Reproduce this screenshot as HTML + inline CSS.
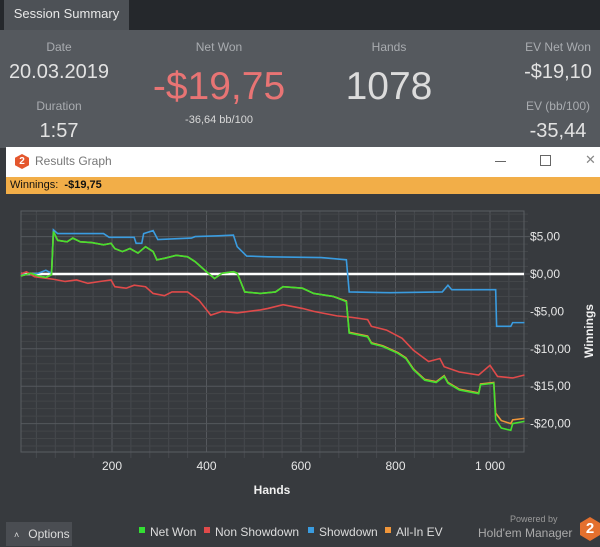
<!DOCTYPE html>
<html><head><meta charset="utf-8">
<style>
body{margin:0;width:600px;height:546px;overflow:hidden;background:#373a3e;font-family:"Liberation Sans",sans-serif;position:relative}
.a{position:absolute}
.lbl{color:#a9acb0;font-size:12px;text-align:center;width:140px}
.val{color:#e2e2e2;text-align:center;width:160px}
</style></head><body>
<div class="a" style="left:0;top:0;width:600px;height:30px;background:#25282c"></div>
<div class="a" style="left:4px;top:0;width:125px;height:30px;background:#4d5156;color:#e8e8e8;font-size:13px;line-height:28px;text-align:center">Session Summary</div>
<div class="a" style="left:0;top:30px;width:600px;height:118px;background:#55595e"></div>
<div class="a lbl" style="left:-11px;top:40px">Date</div>
<div class="a val" style="left:-21px;top:61px;font-size:20px">20.03.2019</div>
<div class="a lbl" style="left:-11px;top:99px">Duration</div>
<div class="a val" style="left:-21px;top:120px;font-size:20px">1:57</div>
<div class="a lbl" style="left:149px;top:40px">Net Won</div>
<div class="a val" style="left:119px;top:65px;width:200px;font-size:39px;color:#e87474">-$19,75</div>
<div class="a val" style="left:139px;top:114px;font-size:11px;color:#d8d8d8">-36,64 bb/100</div>
<div class="a lbl" style="left:319px;top:40px">Hands</div>
<div class="a val" style="left:289px;top:65px;width:200px;font-size:39px;color:#dcdcdc">1078</div>
<div class="a lbl" style="left:488px;top:40px">EV Net Won</div>
<div class="a val" style="left:478px;top:61px;font-size:20px">-$19,10</div>
<div class="a lbl" style="left:488px;top:99px">EV (bb/100)</div>
<div class="a val" style="left:478px;top:120px;font-size:20px">-35,44</div>
<div class="a" style="left:6px;top:147px;width:594px;height:30px;background:#fff"></div>
<div class="a" style="left:15px;top:154px;width:14px;height:15px;background:#e4572e;clip-path:polygon(50% 0,100% 25%,100% 75%,50% 100%,0 75%,0 25%);color:#fff;font-size:10px;font-weight:bold;text-align:center;line-height:15px">2</div>
<div class="a" style="left:35px;top:154px;font-size:12px;color:#777">Results Graph</div>
<div class="a" style="left:495px;top:161px;width:11px;height:1px;background:#666"></div>
<div class="a" style="left:540px;top:155px;width:9px;height:9px;border:1px solid #666"></div>
<div class="a" style="left:585px;top:152px;font-size:13px;color:#888">✕</div>
<div class="a" style="left:6px;top:177px;width:594px;height:17px;background:#f2ae48;font-size:11px;line-height:17px;color:#111;padding-left:4px">Winnings:&nbsp; <b>-$19,75</b></div>
<svg class="a" style="left:0;top:195px" width="600" height="351">
<g id="g" transform="translate(0,-195)"></g>
</svg>
<div class="a" style="left:6px;top:522px;width:66px;height:24px;background:#4a4d52;color:#ddd;font-size:12px;line-height:24px"><span style="margin:0 9px 0 8px;font-size:9px">˄</span>Options</div>
<div class="a" style="left:510px;top:514px;font-size:9px;color:#999">Powered by</div>
<div class="a" style="left:478px;top:526px;font-size:12px;color:#aaa">Hold'em Manager</div>
<div class="a" style="left:580px;top:517px;width:20px;height:24px;background:#e4702e;clip-path:polygon(50% 0,100% 25%,100% 75%,50% 100%,0 75%,0 25%);color:#fff;font-size:15px;font-weight:bold;text-align:center;line-height:24px">2</div>
<script>
const hNet=[7,28,44,60,72,76,85,105,117,133,157,182,198,206,222,238,255,271,287,295,311,336,360,376,400,417,433,457,465,481,514,546,562,603,627,668,696,702,741,749,773,805,822,838,862,886,903,911,935,976,980,1008,1012,1024,1044,1048,1073];
const vNet=[-0.27,0.1,-0.27,-0.45,-0.1,5.66,4.5,4.3,4.8,4.3,4.2,3.9,4.1,3.4,3.0,3.4,2.8,3.65,3.0,1.9,2.1,2.5,2.3,1.65,0.3,-0.6,0.1,0.3,0.1,-2.4,-2.6,-2.4,-1.7,-1.9,-2.6,-3.0,-3.7,-7.9,-8.4,-9.3,-9.7,-10.6,-11.3,-12.8,-14.2,-14.5,-13.7,-14.6,-15.5,-16.0,-14.8,-14.6,-19.5,-20.6,-20.9,-20.0,-19.7];
const vEV=[-0.27,0.1,-0.27,-0.45,-0.1,5.66,4.5,4.3,4.8,4.3,4.2,3.9,4.1,3.4,3.0,3.4,2.8,3.65,3.0,1.9,2.1,2.5,2.3,1.65,0.3,-0.6,0.1,0.3,0.1,-2.4,-2.6,-2.4,-1.7,-1.9,-2.6,-3.0,-3.6,-7.8,-8.3,-9.2,-9.6,-10.5,-11.2,-12.7,-14.1,-14.4,-13.6,-14.5,-15.4,-15.9,-14.7,-14.5,-18.6,-19.6,-20.0,-19.5,-19.3];
const hNS=[7,19,36,76,101,125,149,174,198,206,230,247,271,287,311,327,360,384,409,433,465,514,530,562,603,627,676,708,741,749,781,814,838,870,894,903,935,976,1000,1016,1048,1073];
const vNS=[0,0.3,-0.36,-0.7,-1.0,-0.8,-1.25,-1.0,-0.8,-1.7,-1.9,-1.5,-1.7,-2.6,-2.9,-2.4,-2.4,-3.5,-5.5,-5.0,-5.2,-4.8,-4.6,-4.1,-4.6,-5.0,-5.6,-5.8,-6.1,-7.0,-7.5,-8.6,-10.2,-11.7,-11.3,-12.4,-13.1,-13.5,-12.2,-13.7,-13.9,-13.5];
const hSD=[7,44,60,72,76,85,182,194,247,251,263,267,287,297,368,376,425,457,465,485,530,643,696,702,789,899,911,919,1012,1014,1044,1048,1073];
const vSD=[-0.1,0.1,0.5,0.1,5.9,5.4,5.4,4.9,4.9,4.1,4.1,5.4,5.8,4.6,4.8,5.0,5.1,5.2,3.65,2.4,2.3,2.2,1.9,-2.4,-2.5,-2.4,-1.5,-2.1,-2.1,-7.0,-7.0,-6.5,-6.5];
const xTicks=[200,400,600,800,1000];
const xTickLabels=["200","400","600","800","1 000"];
const yTicks=[5,0,-5,-10,-15,-20];
const yTickLabels=["$5,00","$0,00","-$5,00","-$10,00","-$15,00","-$20,00"];
const L=21,R=524,T=211,B=452;
const X=h=>17.5+h*0.4725, Y=v=>274-v*7.48;
const g=document.getElementById('g'),NS='http://www.w3.org/2000/svg';
function mk(t,a){const e=document.createElementNS(NS,t);for(const k in a)e.setAttribute(k,a[k]);g.appendChild(e);return e;}
let e;
for(let h=40;h<1080;h+=40){const x=X(h);if(x<=L||x>=R)continue;const maj=h%200==0;
 e=mk('line',{x1:x,x2:x,y1:T,y2:maj?B:B+6,stroke:maj?'#55585d':'#46494e'});
 }
for(let v=-24;v<=8;v++){const y=Y(v);if(y<=T||y>=B)continue;const maj=v%5==0;
 e=mk('line',{x1:L,x2:maj?R+6:R+4,y1:y,y2:y,stroke:maj?'#55585d':'#434649'});
 }
e=mk('rect',{x:L,y:T,width:R-L,height:B-T,fill:'none',stroke:'#5a5d62'});

xTicks.forEach((h,i)=>{e=mk('text',{x:X(h),y:470,fill:'#e6e6e6','font-size':12,'text-anchor':'middle'});e.textContent=xTickLabels[i];
 });
yTicks.forEach((v,i)=>{e=mk('text',{x:530,y:Y(v)+4,fill:'#e6e6e6','font-size':12});e.textContent=yTickLabels[i];
 });
e=mk('text',{x:272,y:494,fill:'#f0f0f0','font-size':12,'font-weight':'bold','text-anchor':'middle'});e.textContent='Hands';

e=mk('text',{x:0,y:0,fill:'#f0f0f0','font-size':12,'font-weight':'bold','text-anchor':'middle',transform:'translate(593,331) rotate(-90)'});e.textContent='Winnings';

e=mk('line',{x1:L,x2:R,y1:Y(0),y2:Y(0),stroke:'#fff','stroke-width':2.5});

function series(hs,vs,c,n){e=mk('polyline',{points:hs.map((h,i)=>X(h)+','+Y(vs[i])).join(' '),fill:'none',stroke:c,'stroke-width':1.6});
 }
series(hSD,vSD,'#3a9ce0','showdown-line');
series(hNS,vNS,'#e04a4a','non-showdown-line');
series(hNet,vEV,'#f0963a','all-in-ev-line');
series(hNet,vNet,'#44e030','net-won-line');
const legNames=['Net Won','Non Showdown','Showdown','All-In EV'],legCols=['#33e033','#e04a4a','#3a9ce0','#f0963a'],legX=[139,204,308,385],legIds=['legend-net-won','legend-non-showdown','legend-showdown','legend-all-in-ev'];
legNames.forEach((n,i)=>{e=mk('rect',{x:legX[i],y:527,width:6,height:6,fill:legCols[i]});
 e=mk('text',{x:legX[i]+11,y:536,fill:'#dcdcdc','font-size':12});e.textContent=n;});
</script>
</body></html>
